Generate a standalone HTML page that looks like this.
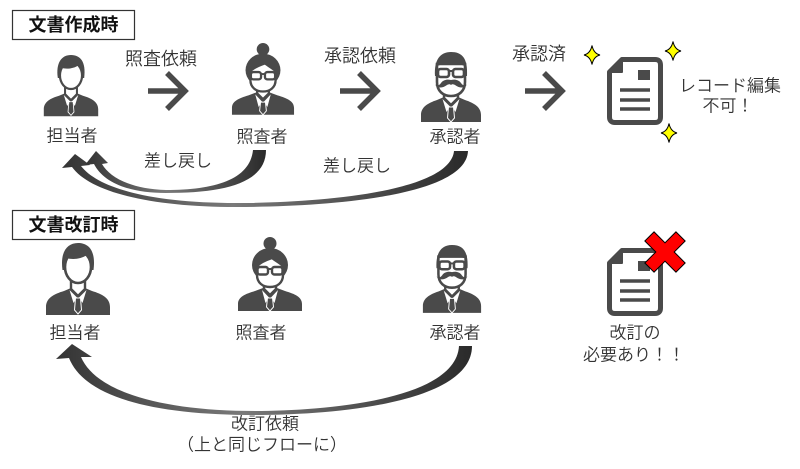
<!DOCTYPE html>
<html><head><meta charset="utf-8">
<style>
html,body{margin:0;padding:0;background:#fff;}
body{width:800px;height:469px;overflow:hidden;position:relative;}
svg{position:absolute;left:0;top:0;}
text{font-family:"Liberation Sans","Noto Sans CJK JP",sans-serif;fill:#333;}
.lt{font-weight:350;}
</style></head><body>
<svg width="800" height="469" viewBox="0 0 800 469" xmlns="http://www.w3.org/2000/svg">
<defs>
 <linearGradient id="gA" gradientUnits="userSpaceOnUse" x1="85" y1="0" x2="266" y2="0">
  <stop offset="0" stop-color="#333"/>
  <stop offset="0.45" stop-color="#7a7a7a"/>
  <stop offset="1" stop-color="#2a2a2a"/>
 </linearGradient>
 <linearGradient id="gB" gradientUnits="userSpaceOnUse" x1="62" y1="0" x2="468" y2="0">
  <stop offset="0" stop-color="#333"/>
  <stop offset="0.42" stop-color="#7a7a7a"/>
  <stop offset="1" stop-color="#2a2a2a"/>
 </linearGradient>
 <linearGradient id="gC" gradientUnits="userSpaceOnUse" x1="56" y1="0" x2="472" y2="0">
  <stop offset="0" stop-color="#333"/>
  <stop offset="0.45" stop-color="#7a7a7a"/>
  <stop offset="1" stop-color="#2a2a2a"/>
 </linearGradient>
 <g id="man">
  <path d="M-32 72 L-32 64 C-32 55 -24 51 -14 48 L-7 45 L7 45 L14 48 C24 51 32 55 32 64 L32 72 Z" fill="#4a4a4a"/>
  <path d="M-7 34 L-7 46 L0 53 L7 46 L7 34 Z" fill="#fff" stroke="#4a4a4a" stroke-width="2.4" stroke-linejoin="round"/>
  <ellipse cx="0" cy="24" rx="13" ry="16" fill="#fff" stroke="#4a4a4a" stroke-width="2.6"/>
  <path d="M-15.5 27 C-18 9 -11 0 0 0 C11 0 18 8 15.5 27 L13.5 27 C13.5 19 12 15 9 12 C3 16 -5 17 -12 15 C-13 19 -13.5 22 -13.5 27 Z" fill="#4a4a4a"/>
  <path d="M-8.5 47 L-1 54.5 L-4.5 60 Z M8.5 47 L1 54.5 L4.5 60 Z" fill="#fff"/>
  <path d="M-2.5 55 L2.5 55 L3.5 67 L0 71 L-3.5 67 Z" fill="#4a4a4a" stroke="#fff" stroke-width="1"/>
 </g>
 <g id="woman">
  <path d="M-32 74 L-32 67 C-32 60 -25 57 -15 54 L-7 51 L7 51 L15 54 C25 57 32 60 32 67 L32 74 Z" fill="#4a4a4a"/>
  <circle cx="0" cy="6.5" r="6.5" fill="#4a4a4a"/>
  <ellipse cx="0" cy="28" rx="18" ry="17" fill="#4a4a4a"/>
  <path d="M-6 42 L-6 52 L0 58 L6 52 L6 42 Z" fill="#fff" stroke="#4a4a4a" stroke-width="2.4" stroke-linejoin="round"/>
  <path d="M-13 29 C-10 26 -4 23 2 21 C6 24 10 26 13 29 L13 38 C13 46 7 50 0 50 C-7 50 -13 46 -13 38 Z" fill="#fff" stroke="#4a4a4a" stroke-width="2.4"/>
  <rect x="-12.5" y="30" width="10.5" height="7.5" rx="2.5" fill="#fff" stroke="#4a4a4a" stroke-width="2.4"/>
  <rect x="2" y="30" width="10.5" height="7.5" rx="2.5" fill="#fff" stroke="#4a4a4a" stroke-width="2.4"/>
  <line x1="-2" y1="32" x2="2" y2="32" stroke="#4a4a4a" stroke-width="2"/>
  <path d="M-8 53 L-1 60.5 L-4.5 66 Z M8 53 L1 60.5 L4.5 66 Z" fill="#fff"/>
  <path d="M-2.5 61 L2.5 61 L3.5 70 L0 74 L-3.5 70 Z" fill="#4a4a4a" stroke="#fff" stroke-width="1"/>
 </g>
 <g id="boss">
  <path d="M-30 70 L-30 63 C-30 55 -23 51 -14 48 L-7 45 L7 45 L14 48 C23 51 30 55 30 63 L30 70 Z" fill="#4a4a4a"/>
  <path d="M-7 36 L-7 46 L0 53 L7 46 L7 36 Z" fill="#fff" stroke="#4a4a4a" stroke-width="2.4" stroke-linejoin="round"/>
  <path d="M-14 12 L14 12 L14 30 C14 39 8 44 0 44 C-8 44 -14 39 -14 30 Z" fill="#fff" stroke="#4a4a4a" stroke-width="2.6"/>
  <path d="M-16 24 C-17 8 -11 0 0 0 C11 0 17 6 16 24 L14 24 L13.5 14 C8 11 -8 11 -13.5 14 L-14 24 Z" fill="#4a4a4a"/>
  <rect x="-13" y="17" width="11" height="8" rx="2.5" fill="#fff" stroke="#4a4a4a" stroke-width="2.6"/>
  <rect x="2" y="17" width="11" height="8" rx="2.5" fill="#fff" stroke="#4a4a4a" stroke-width="2.6"/>
  <line x1="-2" y1="19" x2="2" y2="19" stroke="#4a4a4a" stroke-width="2"/>
  <path d="M0 28 C-4 27 -8 28 -10 31 C-12 34 -15 34 -16 32 C-14 37 -8 36 -4 33 C-2 32 -1 32 0 33 C1 32 2 32 4 33 C8 36 14 37 16 32 C15 34 12 34 10 31 C8 28 4 27 0 28 Z" fill="#4a4a4a"/>
  <path d="M-8.5 47 L-1 54.5 L-4.5 60 Z M8.5 47 L1 54.5 L4.5 60 Z" fill="#fff"/>
  <path d="M-2.5 55 L2.5 55 L3.5 66 L0 70 L-3.5 66 Z" fill="#4a4a4a" stroke="#fff" stroke-width="1"/>
 </g>
 <g id="doc">
  <path d="M15 2.5 L48 2.5 Q53.5 2.5 53.5 8 L53.5 60 Q53.5 65.5 48 65.5 L8 65.5 Q2.5 65.5 2.5 60 L2.5 15 Z" fill="#fff" stroke="#4a4a4a" stroke-width="5" stroke-linejoin="round"/>
  <path d="M2.5 15 L15 2.5 L15 15 Z" fill="#4a4a4a" stroke="#4a4a4a" stroke-width="2" stroke-linejoin="round"/>
  <rect x="31" y="13" width="12" height="10" fill="#4a4a4a"/>
  <path d="M13 33 L43 33 M13 43 L43 43 M13 52 L43 52" stroke="#4a4a4a" stroke-width="3.5"/>
 </g>
 <path id="spark" d="M0 -9.5 Q1.6 -1.6 8 0 Q1.6 1.6 0 9.5 Q-1.6 1.6 -8 0 Q-1.6 -1.6 0 -9.5 Z" fill="#ffff00" stroke="#000" stroke-width="1"/>
</defs>

<!-- title boxes -->
<rect x="12.5" y="10.5" width="122" height="29" fill="#fff" stroke="#333" stroke-width="1.2"/>
<text x="73.5" y="25" font-size="18" font-weight="bold" text-anchor="middle" dominant-baseline="central" style="fill:#111">文書作成時</text>
<rect x="12.5" y="210.5" width="122" height="29" fill="#fff" stroke="#333" stroke-width="1.2"/>
<text x="73.5" y="225" font-size="18" font-weight="bold" text-anchor="middle" dominant-baseline="central" style="fill:#111">文書改訂時</text>

<!-- persons top -->
<use href="#man" transform="translate(71,55) scale(0.85)"/>
<use href="#woman" transform="translate(263,43) scale(0.97)"/>
<use href="#boss" transform="translate(451,52)"/>
<!-- persons bottom -->
<use href="#man" transform="translate(78,243)"/>
<use href="#woman" transform="translate(270,237)"/>
<use href="#boss" transform="translate(452,245) scale(0.97)"/>

<!-- docs -->
<use href="#doc" transform="translate(607,57)"/>
<use href="#doc" transform="translate(607,248)"/>

<!-- chevron arrows -->
<g fill="none" stroke="#4a4a4a" stroke-width="5.5">
 <path d="M148 91 L184 91 M167 73 L185 91 L167 109"/>
 <path d="M340 91 L376 91 M359 73 L377 91 L359 109"/>
 <path d="M525 91 L561 91 M544 73 L562 91 L544 109"/>
</g>

<!-- sparkles -->
<use href="#spark" transform="translate(592,55)"/>
<use href="#spark" transform="translate(673,51)"/>
<use href="#spark" transform="translate(669,133)"/>

<!-- red X -->
<path transform="translate(665,252) rotate(45)" d="M-6.5 -22 L6.5 -22 L6.5 -6.5 L22 -6.5 L22 6.5 L6.5 6.5 L6.5 22 L-6.5 22 L-6.5 6.5 L-22 6.5 L-22 -6.5 L-6.5 -6.5 Z" fill="#ff0000" stroke="#000" stroke-width="1"/>

<!-- curved arrows -->
<path d="M468 151 C466 196 330 207 236 207 C150 207 90 192 72 167 L62 168 L75 154 L90 165 L81 166 C98 188 150 203 236 203 C320 203 450 192 454 151 Z" fill="url(#gB)"/>
<path d="M266 150 C266 184 222 193 166 193 C128 193 103 182 94 164 L85 165 L96 151 L108 163 L102 164 C110 178 132 189 166 190 C214 190 250 180 253 150 Z" fill="url(#gA)"/>
<path d="M472 346 C472 404 330 415 255 415 C155 415 85 398 69 358 L56 359 L72 344 L92 357 L81 357 C96 392 162 411 255 411 C325 411 456 400 459 346 Z" fill="url(#gC)"/>

<!-- labels -->
<g class="lt" text-anchor="middle" dominant-baseline="central" font-size="17">
 <text x="161" y="59" font-size="18">照査依頼</text>
 <text x="360" y="56" font-size="18">承認依頼</text>
 <text x="539" y="54" font-size="18">承認済</text>
 <text x="72" y="136">担当者</text>
 <text x="262" y="137">照査者</text>
 <text x="455" y="137">承認者</text>
 <text x="178" y="161">差し戻し</text>
 <text x="357" y="166">差し戻し</text>
 <text x="730" y="86">レコード編集</text>
 <text x="728" y="106">不可！</text>
 <text x="75" y="333">担当者</text>
 <text x="261" y="333">照査者</text>
 <text x="455" y="333">承認者</text>
 <text x="635" y="333">改訂の</text>
 <text x="634" y="355">必要あり！！</text>
 <text x="265" y="424">改訂依頼</text>
 <text x="262" y="445">（上と同じフローに）</text>
</g>
</svg>
</body></html>
